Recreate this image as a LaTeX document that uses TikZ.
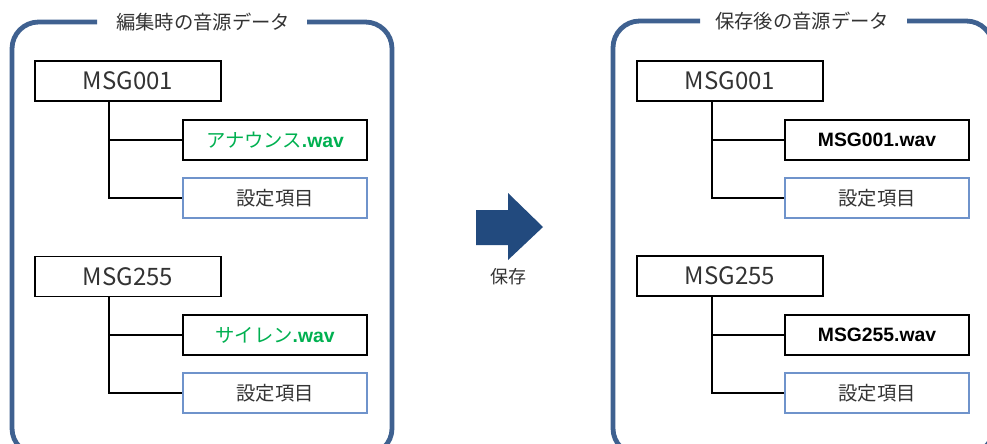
\documentclass[tikz,border=0pt]{standalone}
\usepackage{fontspec}
\setmainfont{Noto Sans CJK JP}
\newfontfamily\wavfont{Liberation Sans}
\definecolor{frameblue}{HTML}{3F6190}
\definecolor{arrowblue}{HTML}{224A7E}
\definecolor{lightblue}{HTML}{6F93CB}
\definecolor{txtgray}{HTML}{333333}
\definecolor{wavgreen}{HTML}{00B050}
\tikzset{
  frame/.style={draw=frameblue, line width=3.6pt, rounded corners=20pt},
  parentbox/.style={draw=black, line width=1.4pt, minimum width=139pt, minimum height=30pt, inner sep=0pt, font=\fontsize{18}{18}\selectfont, text=txtgray},
  wavbox/.style={draw=black, line width=1.4pt, minimum width=138pt, minimum height=30pt, inner sep=0pt, font=\fontsize{14.5}{14.5}\selectfont},
  setbox/.style={draw=lightblue, line width=1.1pt, minimum width=138pt, minimum height=30pt, inner sep=0pt, font=\fontsize{14.5}{14.5}\selectfont, text=txtgray},
  conn/.style={draw=black, line width=1.4pt},
  titlelbl/.style={font=\fontsize{14.5}{14.5}\selectfont, text=txtgray, inner sep=0pt},
}
\begin{document}
\begin{tikzpicture}[x=0.75pt, y=-0.75pt]
\useasboundingbox (0,0) rectangle (987,443);
\clip (0,0) rectangle (987,443);
% frames
\draw[frame] (307,22) -- (392,22) -- (392,455) -- (12,455) -- (12,22) -- (97,22);
\draw[frame] (907,21) -- (993,21) -- (993,455) -- (613,455) -- (613,21) -- (700,21);
\node[titlelbl] (t1) at (203,22) {編集時の音源データ};
\node[titlelbl] (t2) at (802,21) {保存後の音源データ};
% left tree
\node[parentbox] (p1) at (128,81) {MSG001};
\node[wavbox] (w1) at (275,140) {\textcolor{wavgreen}{アナウンス{\wavfont\bfseries .wav}}};
\node[setbox] (s1) at (275,198) {設定項目};
\node[parentbox] (p2) at (128,276.5) {MSG255};
\node[wavbox] (w2) at (275,335) {\textcolor{wavgreen}{サイレン{\wavfont\bfseries .wav}}};
\node[setbox] (s2) at (275,393) {設定項目};
\draw[conn] (p1.south -| 109,0) -- (109,198) -- (s1.west);
\draw[conn] (109,140) -- (w1.west);
\draw[conn] (p2.south -| 109,0) -- (109,393) -- (s2.west);
\draw[conn] (109,335) -- (w2.west);
% right tree
\node[parentbox] (p3) at (730,81) {MSG001};
\node[wavbox] (w3) at (877,140) {{\wavfont\bfseries MSG001.wav}};
\node[setbox] (s3) at (877,198) {設定項目};
\node[parentbox] (p4) at (730,276) {MSG255};
\node[wavbox] (w4) at (877,335) {{\wavfont\bfseries MSG255.wav}};
\node[setbox] (s4) at (877,393) {設定項目};
\draw[conn] (p3.south -| 712,0) -- (712,198) -- (s3.west);
\draw[conn] (712,140) -- (w3.west);
\draw[conn] (p4.south -| 712,0) -- (712,393) -- (s4.west);
\draw[conn] (712,335) -- (w4.west);
% arrow
\fill[arrowblue] (476,210) -- (508,210) -- (508,193) -- (543,227) -- (508,260) -- (508,245) -- (476,245) -- cycle;
\node[font=\fontsize{13.5}{13.5}\selectfont, text=txtgray] (save) at (508,277) {保存};
\end{tikzpicture}
\end{document}
